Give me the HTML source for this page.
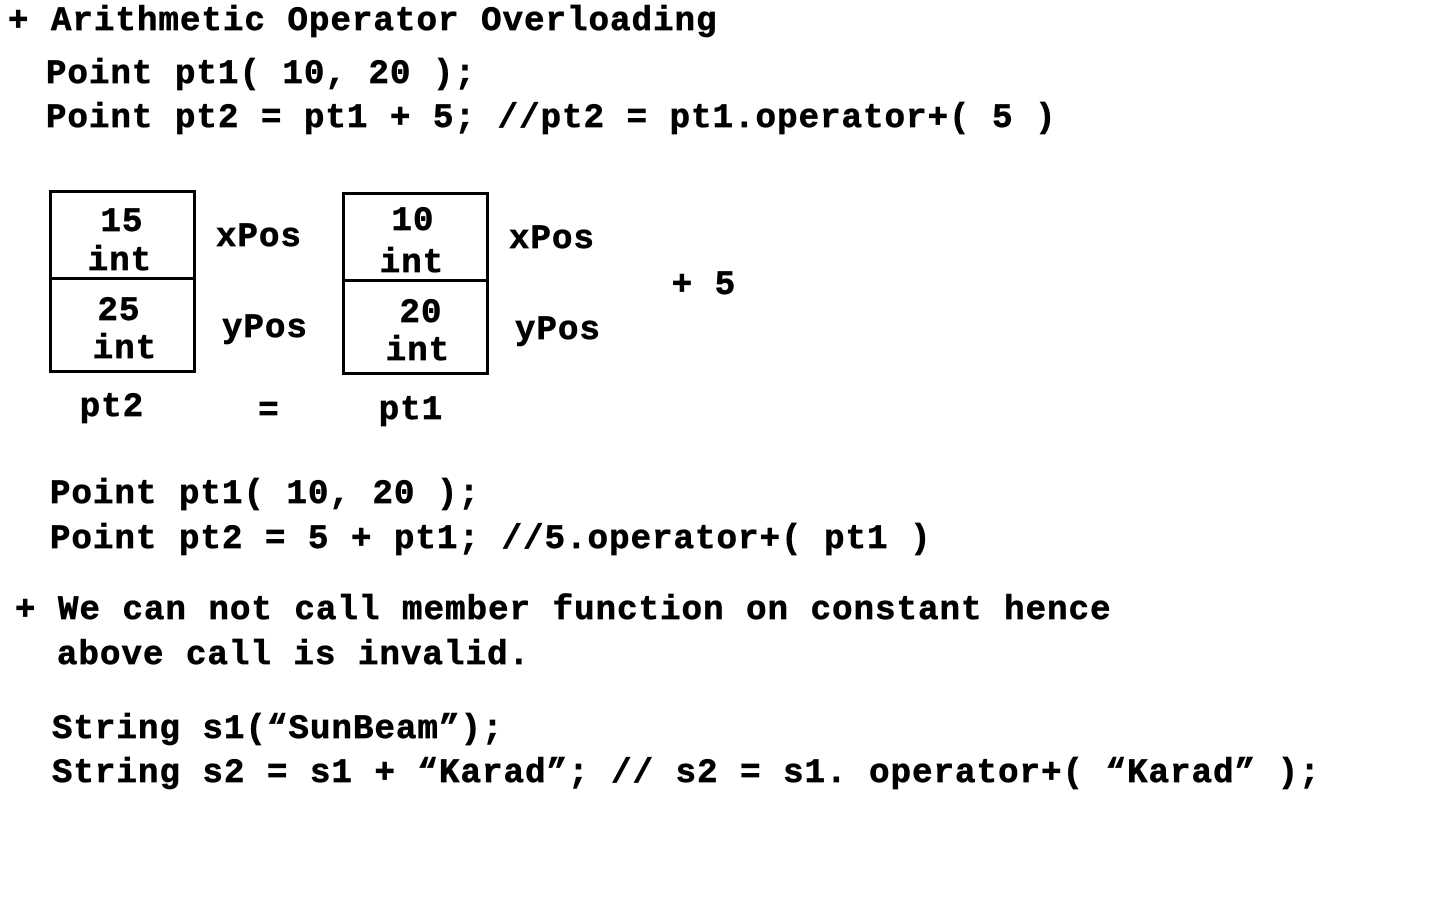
<!DOCTYPE html>
<html><head><meta charset="utf-8"><style>
html,body{margin:0;padding:0;background:#fff;}
body{width:1440px;height:900px;position:relative;overflow:hidden;font-family:"Liberation Mono",monospace;font-weight:bold;font-size:34px;color:#000;-webkit-text-stroke:0.7px #000;}
.t{position:absolute;white-space:pre;line-height:34px;letter-spacing:1.1px;}
.c{position:absolute;white-space:pre;line-height:34px;letter-spacing:1.1px;transform:translate(-50%,-50%);}
.box{position:absolute;border:3px solid #000;box-sizing:border-box;}
.hl{position:absolute;height:3px;background:#000;}
</style></head><body>
<div class="t" style="left:8px;top:5px">+ Arithmetic Operator Overloading</div>
<div class="t" style="left:46px;top:58px">Point pt1( 10, 20 );</div>
<div class="t" style="left:46px;top:102px">Point pt2 = pt1 + 5; //pt2 = pt1.operator+( 5 )</div>

<div class="box" style="left:49px;top:190px;width:147px;height:183px"></div>
<div class="hl" style="left:49px;top:277px;width:147px"></div>
<div class="box" style="left:342px;top:192px;width:147px;height:183px"></div>
<div class="hl" style="left:342px;top:279px;width:147px"></div>

<div class="c" style="left:122px;top:223px">15</div>
<div class="c" style="left:120px;top:262px">int</div>
<div class="c" style="left:119px;top:312px">25</div>
<div class="c" style="left:125px;top:350px">int</div>
<div class="c" style="left:259px;top:238px">xPos</div>
<div class="c" style="left:265px;top:329px">yPos</div>
<div class="c" style="left:413px;top:222px">10</div>
<div class="c" style="left:412px;top:264px">int</div>
<div class="c" style="left:421px;top:314px">20</div>
<div class="c" style="left:418px;top:352px">int</div>
<div class="c" style="left:552px;top:240px">xPos</div>
<div class="c" style="left:558px;top:331px">yPos</div>
<div class="c" style="left:704px;top:286px">+ 5</div>
<div class="c" style="left:112px;top:408px">pt2</div>
<div class="c" style="left:269px;top:412px">=</div>
<div class="c" style="left:411px;top:411px">pt1</div>

<div class="t" style="left:50px;top:478px">Point pt1( 10, 20 );</div>
<div class="t" style="left:50px;top:523px">Point pt2 = 5 + pt1; //5.operator+( pt1 )</div>
<div class="t" style="left:15px;top:594px">+ We can not call member function on constant hence</div>
<div class="t" style="left:57px;top:639px">above call is invalid.</div>
<div class="t" style="left:52px;top:713px">String s1(“SunBeam”);</div>
<div class="t" style="left:52px;top:757px">String s2 = s1 + “Karad”; // s2 = s1. operator+( “Karad” );</div>
</body></html>
